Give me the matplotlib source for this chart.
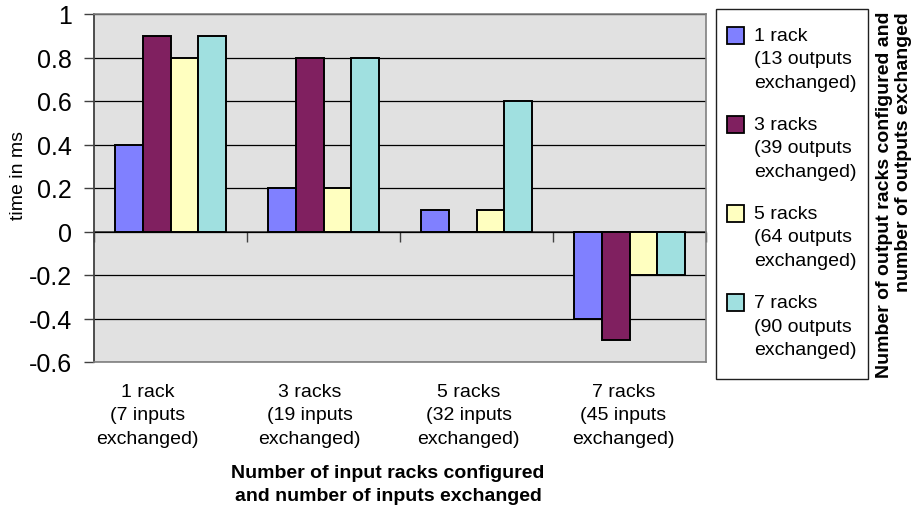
import matplotlib
matplotlib.use("Agg")
import matplotlib.pyplot as plt
import matplotlib.transforms as mtransforms
from matplotlib.patches import Rectangle
from matplotlib.ticker import FixedLocator, FuncFormatter
import numpy as np

plt.rcParams['font.family'] = ['Liberation Sans', 'DejaVu Sans']
plt.rcParams['axes.unicode_minus'] = False

# Input rack configurations (x categories)
categories = ["1 rack\n(7 inputs\nexchanged)",
              "3 racks\n(19 inputs\nexchanged)",
              "5 racks\n(32 inputs\nexchanged)",
              "7 racks\n(45 inputs\nexchanged)"]

# Output rack configurations (series)
series_names = ["1 rack\n(13 outputs\nexchanged)",
                "3 racks\n(39 outputs\nexchanged)",
                "5 racks\n(64 outputs\nexchanged)",
                "7 racks\n(90 outputs\nexchanged)"]

# Time in ms for each output configuration, per input configuration
out_1_rack = [0.4, 0.2, 0.1, -0.4]
out_3_racks = [0.9, 0.8, 0.0, -0.5]
out_5_racks = [0.8, 0.2, 0.1, -0.2]
out_7_racks = [0.9, 0.8, 0.6, -0.2]

y_ticks = [-0.6, -0.4, -0.2, 0, 0.2, 0.4, 0.6, 0.8, 1]

series_values = [out_1_rack, out_3_racks, out_5_racks, out_7_racks]
colors = ["#8080FF", "#802060", "#FFFFC0", "#A0E0E0"]

W, H = 918, 510
fig = plt.figure(figsize=(W / 100, H / 100), dpi=100)
ax = fig.add_axes([94 / W, 1 - 363 / H, (706 - 94) / W, (363 - 15) / H])
ax.set_facecolor("#E1E1E1")

x = np.arange(len(categories))
n = len(series_values)
bar_w = 1 / (n + 1.5)
for i, (vals, col) in enumerate(zip(series_values, colors)):
    ax.bar(x + (i - (n - 1) / 2) * bar_w, vals, width=bar_w, color=col,
           edgecolor="black", linewidth=1.4, zorder=3)

ax.set_xlim(-0.5, len(categories) - 0.5)
ax.set_ylim(y_ticks[0], y_ticks[-1])
ax.yaxis.set_major_locator(FixedLocator(y_ticks))
ax.yaxis.set_major_formatter(FuncFormatter(lambda v, p: f"{v:g}"))
ax.tick_params(axis="y", direction="out", length=7, width=1, color="#404040",
               labelsize=18, pad=9)
ax.grid(axis="y", color="black", linewidth=0.9, zorder=1)
ax.set_axisbelow(True)

for side in ["top", "right", "bottom"]:
    ax.spines[side].set_color("#808080")
    ax.spines[side].set_linewidth(1.2)
ax.spines["left"].set_color("#404040")
ax.spines["left"].set_linewidth(1.3)

# Category labels below the plot area
ax.set_xticks(x)
ax.set_xticklabels(categories, fontsize=14, linespacing=1.5)
ax.tick_params(axis="x", length=0, pad=15)
label_shift_px = [-23, -14, -8, -6]
for lbl, dx in zip(ax.get_xticklabels(), label_shift_px):
    lbl.set_transform(lbl.get_transform() +
                      mtransforms.ScaledTranslation(dx / 100, 0, fig.dpi_scale_trans))

# Category axis crossing at zero, with ticks at group boundaries
zero_axis = ax.secondary_xaxis(0, transform=ax.transData)
zero_axis.set_xticks(np.arange(len(categories) + 1) - 0.5)
zero_axis.tick_params(axis="x", direction="out", length=7, width=1,
                      color="#404040", labelbottom=False)
zero_axis.spines["bottom"].set_color("#303030")
zero_axis.spines["bottom"].set_linewidth(1.2)

fig.text(19 / W, 1 - 175 / H, "time in ms", rotation=90, fontsize=14,
         ha="center", va="center")
fig.text(388 / W, 1 - 485 / H,
         "Number of input racks configured\nand number of inputs exchanged",
         fontsize=14, fontweight="bold", ha="center", va="center",
         linespacing=1.5)
fig.text(894 / W, 1 - 12 / H,
         "Number of output racks configured and\nnumber of outputs exchanged",
         rotation=90, fontsize=14, fontweight="bold", ha="center", va="top",
         multialignment="right", linespacing=1.2)

# Legend box
fig.patches.append(Rectangle((716 / W, 1 - 380 / H), (868 - 716) / W, (380 - 10) / H,
                             transform=fig.transFigure, facecolor="white",
                             edgecolor="#202020", linewidth=1.0))
entry_top = 36
entry_step = 89
for i, (name, col) in enumerate(zip(series_names, colors)):
    yc = entry_top + i * entry_step
    fig.patches.append(Rectangle((727 / W, 1 - (yc + 8.5) / H), 17 / W, 17 / H,
                                 transform=fig.transFigure, facecolor=col,
                                 edgecolor="black", linewidth=1.3))
    fig.text(754 / W, 1 - (yc - 8) / H, name, fontsize=14, ha="left",
             va="top", linespacing=1.5)

fig.savefig("out.png", dpi=100)
